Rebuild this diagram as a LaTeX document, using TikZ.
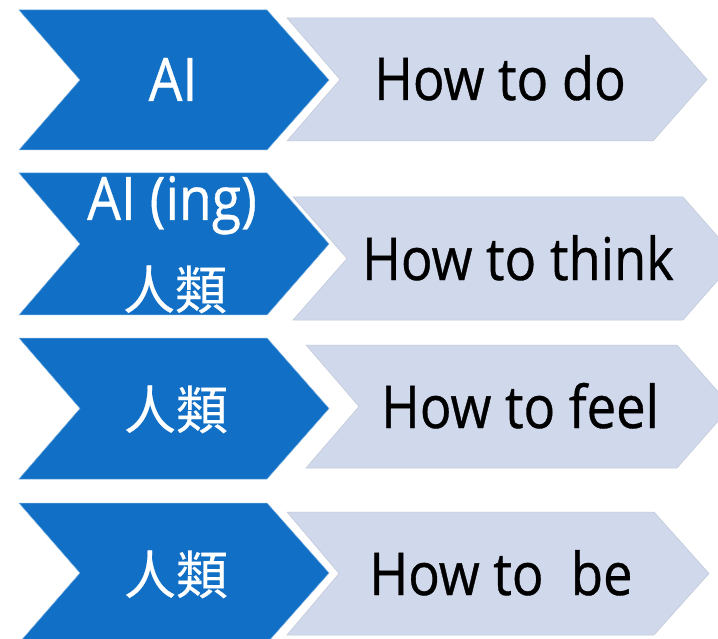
\documentclass[tikz,border=0pt]{standalone}
\usepackage{fontspec}
\usepackage{xcolor}
\usepackage{tikz}
\setmainfont{Open Sans}[FakeStretch=0.89,FakeBold=0.6]
\newfontfamily\cjk{Noto Sans CJK TC}[FakeBold=0.4]
\definecolor{dblue}{RGB}{17,112,198}
\definecolor{lgray}{RGB}{208,216,235}
% chevron: left, top, bottom, top right, tip, notch
\newcommand\chev[7][]{\path[#1] (#2,#3) -- (#5,#3) -- (#6,{(#3+#4)/2}) -- (#5,#4) -- (#2,#4) -- (#7,{(#3+#4)/2}) -- cycle;}
\tikzstyle{chevl}=[fill=dblue,draw=dblue!55!white,line width=.5pt]
\tikzstyle{chevr}=[fill=lgray,draw=lgray!92!black,line width=.5pt]
\tikzstyle{lbl}=[anchor=base,inner sep=0pt,text=white,font=\fontsize{60}{64}\selectfont]
\tikzstyle{hz} =[anchor=base,inner sep=0pt,text=white,font=\cjk\fontsize{52}{56}\selectfont]
\tikzstyle{txt}=[anchor=base,inner sep=0pt,text=black,font=\fontsize{59}{64}\selectfont]

\begin{document}
\begin{tikzpicture}[x=1pt,y=-1pt]
  \clip (0,0) rectangle (718,639);
  \fill[white] (0,0) rectangle (718,639);
  % left column
  \chev[chevl]{19}{10}{150}{267}{329}{80}
  \chev[chevl]{19}{173}{315}{267}{329}{80}
  \chev[chevl]{19}{338}{479}{267}{329}{80}
  \chev[chevl]{19}{503}{643}{267}{329}{80}
  % right column
  \chev[chevr]{287}{18}{141}{653}{707}{340}
  \chev[chevr]{293}{197}{320}{683}{737}{347}
  \chev[chevr]{306}{345}{468}{677}{731}{359}
  \chev[chevr]{287}{512}{635}{654}{709}{339}
  % labels
  \node[lbl] (ai)  at (173,101) {AI};
  \node[lbl] (ai2) at (172,220) {AI (ing)};
  \node[hz]  (hz2) at (175,309) {人類};
  \node[hz]  (hz3) at (176,429) {人類};
  \node[hz]  (hz4) at (176,594) {人類};
  \node[txt] (do)    at (500,100) {How to do};
  \node[txt] (think) at (518,280) {How to think};
  \node[txt] (feel)  at (520,428) {How to feel};
  \node[txt] (be)    at (501,595) {How to\ \ be};
\end{tikzpicture}
\end{document}
